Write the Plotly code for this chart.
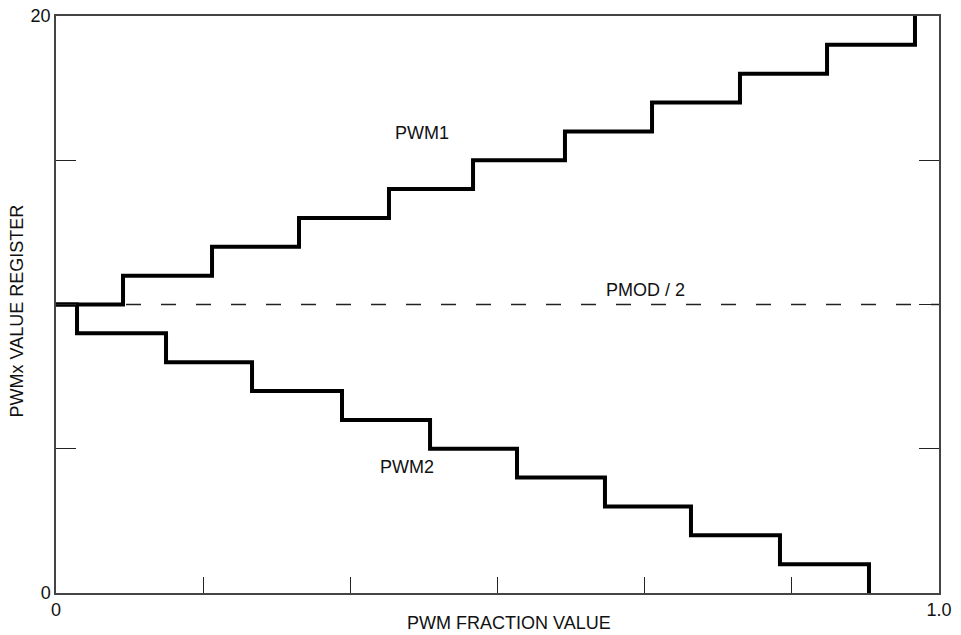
import plotly.graph_objects as go

# Step transition points (PWM fraction value) and register values
pwm1_x = [0.0, 0.0759, 0.1767, 0.2752, 0.3771, 0.4723, 0.5764, 0.675, 0.7746, 0.8732, 0.9728]
pwm1_y = [10, 11, 12, 13, 14, 15, 16, 17, 18, 19, 20]
pwm2_x = [0.0, 0.0238, 0.1246, 0.222, 0.3239, 0.4236, 0.5221, 0.6217, 0.7191, 0.8199, 0.9207]
pwm2_y = [10, 9, 8, 7, 6, 5, 4, 3, 2, 1, 0]
pmod_x = [0.0, 1.0]
pmod_y = [10, 10]

x_tickvals = [0, 1/6, 2/6, 3/6, 4/6, 5/6, 1.0]
x_ticktext = ["0", "", "", "", "", "", "1.0"]
y_tickvals = [0, 5, 10, 15, 20]
y_ticktext = ["0", "", "", "", "20"]

FONT = "Liberation Sans, Arial, sans-serif"
FS = 18

fig = go.Figure()
fig.add_trace(go.Scatter(x=pmod_x, y=pmod_y, mode="lines",
                         line=dict(color="#222", width=1.4, dash="15px,20px"),
                         name="PMOD / 2", hoverinfo="skip"))
fig.add_trace(go.Scatter(x=pwm1_x, y=pwm1_y, mode="lines", line_shape="hv",
                         line=dict(color="black", width=4), name="PWM1"))
fig.add_trace(go.Scatter(x=pwm2_x, y=pwm2_y, mode="lines", line_shape="hv",
                         line=dict(color="black", width=4), name="PWM2"))

annos = [
    dict(x=0.4145, y=15.95, text="PWM1"),
    dict(x=0.668, y=10.52, text="PMOD / 2"),
    dict(x=0.3975, y=4.36, text="PWM2"),
]
fig.update_layout(
    width=961, height=635,
    margin=dict(l=56, r=22, t=16, b=42, autoexpand=False),
    paper_bgcolor="white", plot_bgcolor="white",
    showlegend=False,
    font=dict(family=FONT, size=FS, color="#111"),
    annotations=[dict(xref="x", yref="y", showarrow=False,
                      font=dict(family=FONT, size=FS, color="#111"), **a) for a in annos]
    + [
        dict(xref="paper", yref="paper", x=0.5125, y=-0.052, yanchor="middle",
             text="PWM FRACTION VALUE", showarrow=False),
        dict(xref="paper", yref="paper", x=-0.0442, y=0.4895, xanchor="center",
             yanchor="middle", text="PWMx VALUE REGISTER", textangle=-90,
             showarrow=False),
    ],
)
fig.update_xaxes(range=[0, 1], showgrid=False, zeroline=False, automargin=False,
                 showline=True, linecolor="#444", linewidth=1.5, mirror=True,
                 ticks="inside", ticklen=16, tickwidth=1.3, tickcolor="#222",
                 tickvals=x_tickvals, ticktext=x_ticktext)
fig.update_yaxes(range=[0, 20], showgrid=False, zeroline=False, automargin=False,
                 showline=True, linecolor="#444", linewidth=1.5, mirror="ticks",
                 ticks="inside", ticklen=20, tickwidth=1.3, tickcolor="#222",
                 tickvals=y_tickvals, ticktext=y_ticktext)

fig.write_html("out.html", config={"displayModeBar": False},
               post_script="document.body.style.margin='0';document.body.style.overflow='hidden';")
